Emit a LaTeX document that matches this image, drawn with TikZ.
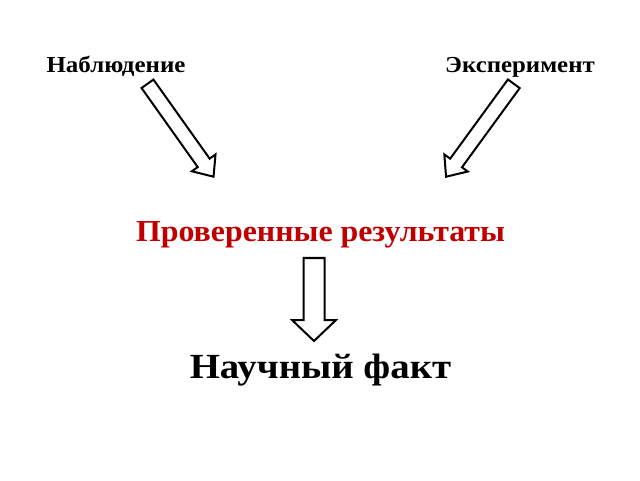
\documentclass[tikz,border=0pt]{standalone}
\usepackage{fontspec}
\setmainfont{Liberation Serif}
\definecolor{resred}{RGB}{192,0,0}
\newcommand{\wide}[2]{\scalebox{#1}[1]{#2}}
\tikzset{
  lbl/.style={inner sep=0pt, anchor=base, font=\bfseries},
  fatarrow/.pic={
    \draw[line width=2pt, line join=miter, fill=white]
      (0,-\sw) -- (\al-\hl,-\sw) -- (\al-\hl,-\hw) -- (\al,0)
      -- (\al-\hl,\hw) -- (\al-\hl,\sw) -- (0,\sw) -- cycle;
  }
}
\begin{document}
\begin{tikzpicture}[x=1pt,y=1pt]
\useasboundingbox (0,0) rectangle (640,480);
\node[lbl, font=\bfseries\fontsize{22.9}{27}\selectfont] (obs) at (116,407.7) {\wide{1.09}{Наблюдение}};
\node[lbl, font=\bfseries\fontsize{22.9}{27}\selectfont] (exp) at (520,407.5) {\wide{1.085}{Эксперимент}};
\node[lbl, text=resred, font=\bfseries\fontsize{30.5}{36}\selectfont] (res) at (320.5,238.3) {\wide{1.045}{Проверенные результаты}};
\node[lbl, font=\bfseries\fontsize{35.3}{42}\selectfont] (fact) at (320.5,101.7) {\wide{1.1}{Научный факт}};
\coordinate (a1) at (147.5,396.2);
\coordinate (a2) at (513.8,396.2);
\coordinate (a3) at (314,222);
\def\sw{7.3}\def\hw{14.5}\def\hl{17}\def\al{114}
\pic[rotate=-54.6] at (a1) {fatarrow};
\def\al{115}
\pic[rotate=-126.1] at (a2) {fatarrow};
\def\sw{10.5}\def\hw{22}\def\hl{21}\def\al{83}
\pic[rotate=-90] at (a3) {fatarrow};
\end{tikzpicture}
\end{document}
